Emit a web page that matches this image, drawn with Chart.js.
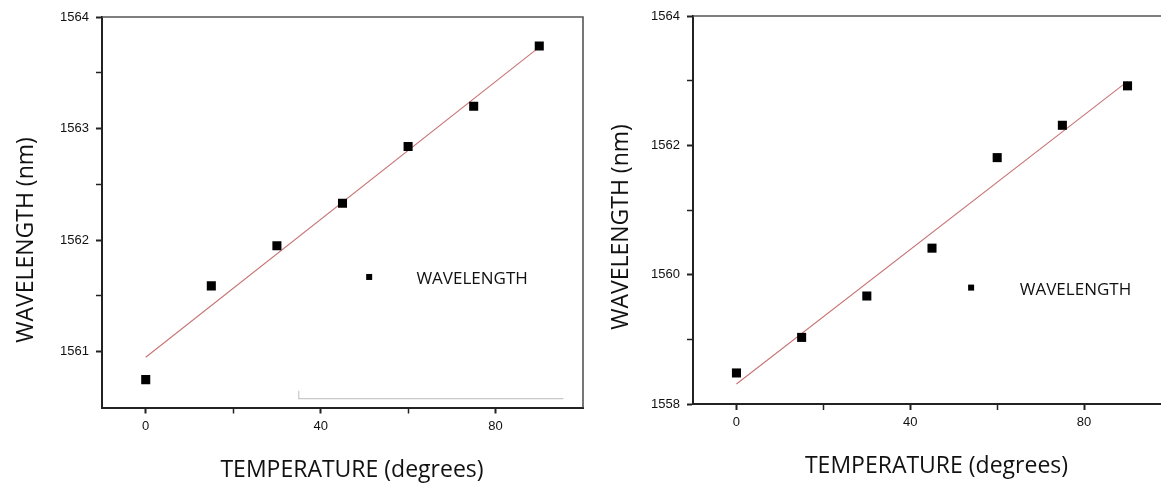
<!DOCTYPE html>
<html><head><meta charset="utf-8">
<script src="https://cdn.jsdelivr.net/npm/chart.js@4"></script>
<style>
html,body{margin:0;padding:0;background:#fff;overflow:hidden;width:1161px;height:483px;position:relative;}
.box{position:absolute;top:0;height:483px;width:600px;}
#b1{left:0;}
#b2{left:600px;}
</style></head><body>
<div class="box" id="b1"><canvas id="c1"></canvas></div>
<div class="box" id="b2"><canvas id="c2"></canvas></div>
<script>
// ---- data ----
const temperature = [0, 15, 30, 45, 60, 75, 90];
const wavelengthA = [1560.75, 1561.59, 1561.95, 1562.33, 1562.84, 1563.20, 1563.74];
const wavelengthB = [1558.48, 1559.03, 1559.67, 1560.41, 1561.81, 1562.31, 1562.92];
const fitX = [0, 90];
const fitA = [1560.95, 1563.73];
const fitB = [1558.31, 1562.99];
const xTicks = [0, 20, 40, 60, 80];
const xLabels = [0, 40, 80];
const yTicksA = [1561, 1561.5, 1562, 1562.5, 1563, 1563.5, 1564];
const yLabelsA = [1561, 1562, 1563, 1564];
const yTicksB = [1558, 1559, 1560, 1561, 1562, 1563, 1564];
const yLabelsB = [1558, 1560, 1562, 1564];
const strayX = [35, 35, 95.5];
const strayY = [1560.65, 1560.58, 1560.58];
const seriesName = 'WAVELENGTH';
const xTitle = 'TEMPERATURE (degrees)';
const yTitle = 'WAVELENGTH (nm)';

const TITLE_FONT = '23px "Open Sans"';
const TICK_FONT = {family: '"Liberation Sans", Arial, sans-serif', size: 13};

const decor = {
  id: 'decor',
  afterDraw(chart, args, o) {
    const ctx = chart.ctx, a = chart.chartArea;
    const xs = chart.scales.x, ys = chart.scales.y;
    ctx.save();
    ctx.strokeStyle = '#555';
    ctx.lineWidth = 1.6;
    ctx.beginPath();
    ctx.moveTo(a.left, a.top);
    ctx.lineTo(a.right, a.top);
    if (o.rightBorder) ctx.lineTo(a.right, a.bottom);
    ctx.stroke();
    const lx = xs.getPixelForValue(o.legend.x), ly = ys.getPixelForValue(o.legend.y);
    ctx.fillStyle = '#000';
    ctx.fillRect(lx - 3, ly - 3, 6, 6);
    ctx.font = '17px "Open Sans"';
    ctx.fillStyle = '#111';
    ctx.textBaseline = 'alphabetic';
    ctx.textAlign = 'left';
    ctx.fillText(seriesName, xs.getPixelForValue(o.legend.tx), o.legend.base);
    ctx.font = TITLE_FONT;
    ctx.textAlign = 'center';
    ctx.fillText(xTitle, o.xt.x, o.xt.y);
    ctx.translate(o.yt.x, o.yt.y);
    ctx.rotate(-Math.PI / 2);
    ctx.fillText(yTitle, 0, 0);
    ctx.restore();
  }
};

function make(id, ys, fit, yTicks, yLabels, ymin, ymax, cfg) {
  const datasets = [
    {type: 'scatter', label: seriesName, data: temperature.map((t, i) => ({x: t, y: ys[i]})),
     pointStyle: 'rect', pointRadius: 6.4, pointHoverRadius: 6.4, backgroundColor: '#000', borderColor: '#000', borderWidth: 0},
    {type: 'line', label: 'fit', data: fitX.map((t, i) => ({x: t, y: fit[i]})),
     borderColor: '#c77474', borderWidth: 1.1, pointRadius: 0, fill: false}
  ];
  if (cfg.stray) datasets.push({type: 'line', label: 'stray', data: strayX.map((t, i) => ({x: t, y: strayY[i]})),
     borderColor: '#c8c8c8', borderWidth: 1.2, pointRadius: 0, fill: false});
  return new Chart(document.getElementById(id), {
    data: {datasets},
    options: {
      responsive: true, maintainAspectRatio: false, animation: false,
      layout: {padding: cfg.padding},
      plugins: {legend: {display: false}, tooltip: {enabled: false}, decor: cfg.decor},
      scales: {
        x: {type: 'linear', min: -10, max: 100,
            afterBuildTicks: s => { s.ticks = xTicks.map(v => ({value: v})); },
            afterFit: s => { s.height = cfg.xh; },
            ticks: {callback: v => xLabels.includes(v) ? String(v) : '', color: '#111', font: TICK_FONT, padding: 5, maxRotation: 0, autoSkip: false},
            grid: {drawOnChartArea: false, tickLength: 6, tickColor: '#222', tickWidth: c => xLabels.includes(c.tick && c.tick.value) ? 2 : 1.5},
            border: {display: true, color: '#222', width: 2}},
        y: {type: 'linear', min: ymin, max: ymax,
            afterBuildTicks: s => { s.ticks = yTicks.map(v => ({value: v})); },
            afterFit: s => { s.width = cfg.yw; },
            ticks: {callback: v => yLabels.includes(v) ? String(v) : '', color: '#111', font: TICK_FONT, padding: 7, autoSkip: false},
            grid: {drawOnChartArea: false, tickLength: 6, tickColor: '#222', tickWidth: c => yLabels.includes(c.tick && c.tick.value) ? 2 : 1.5},
            border: {display: true, color: '#222', width: 2}}
      }
    },
    plugins: [decor]
  });
}

make('c1', wavelengthA, fitA, yTicksA, yLabelsA, 1560.5, 1564, {
  padding: {left: 0, top: 17, right: 17, bottom: 0}, yw: 102, xh: 75.5, stray: true,
  decor: {rightBorder: true, legend: {x: 51.1, y: 1561.67, tx: 61.9, base: 284},
          xt: {x: 352, y: 477}, yt: {x: 33, y: 240}}
});
make('c2', wavelengthB, fitB, yTicksB, yLabelsB, 1558, 1564, {
  padding: {left: 0, top: 16, right: 29, bottom: 0}, yw: 93, xh: 79, stray: false,
  decor: {rightBorder: true, legend: {x: 54.0, y: 1559.80, tx: 65.2, base: 295},
          xt: {x: 336.5, y: 473}, yt: {x: 28, y: 227}}
});
</script>
</body></html>
